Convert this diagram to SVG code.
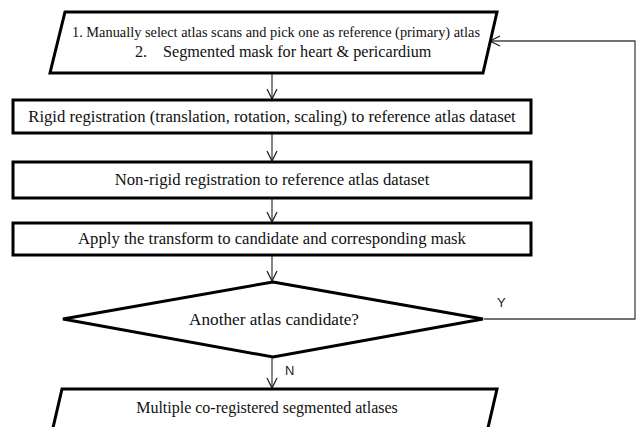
<svg xmlns="http://www.w3.org/2000/svg" width="638" height="427" viewBox="0 0 638 427">
<style>
.shape{fill:#fff;stroke:#000;stroke-width:3;stroke-linejoin:miter}
.t{font-family:"Liberation Serif","Times New Roman",serif;fill:#111;text-anchor:middle;font-size:16.7px}
.lbl{font-family:"Liberation Sans",Arial,sans-serif;font-size:13px;fill:#222}
.conn{fill:none;stroke:#444;stroke-width:1.3}
</style>
<defs>
<marker id="arr" viewBox="0 0 12 12" refX="11" refY="6" markerWidth="12" markerHeight="12" markerUnits="userSpaceOnUse" orient="auto">
<path d="M1,1 L11,6 L1,11" fill="none" stroke="#222" stroke-width="1.3"/>
</marker>
</defs>
<rect width="638" height="427" fill="#fff"/>
<g id="connectors">
<line class="conn" x1="272" y1="74" x2="272" y2="99" marker-end="url(#arr)"/>
<line class="conn" x1="272" y1="134" x2="272" y2="161" marker-end="url(#arr)"/>
<line class="conn" x1="272" y1="199" x2="272" y2="222" marker-end="url(#arr)"/>
<line class="conn" x1="272" y1="256" x2="272" y2="281" marker-end="url(#arr)"/>
<line class="conn" x1="272" y1="358" x2="272" y2="388" marker-end="url(#arr)"/>
<polyline class="conn" points="484,319 635,319 635,41 490,41" marker-end="url(#arr)"/>
<text class="lbl" x="497" y="307">Y</text>
<text class="lbl" x="285" y="375">N</text>
</g>
<g id="select-atlas">
<polygon class="shape" points="65,12 497,12 483,73 50,73"/>
<text class="t" x="72" y="37" style="font-size:14px;text-anchor:start" textLength="408" lengthAdjust="spacingAndGlyphs">1. Manually select atlas scans and pick one as reference (primary) atlas</text>
<text class="t" y="57" style="font-size:16.2px;text-anchor:start"><tspan x="135">2.</tspan><tspan x="163">Segmented mask for heart &amp; pericardium</tspan></text>
</g>
<g id="rigid">
<rect class="shape" x="13" y="100" width="518" height="33"/>
<text class="t" x="272" y="122">Rigid registration (translation, rotation, scaling) to reference atlas dataset</text>
</g>
<g id="nonrigid">
<rect class="shape" x="13" y="162" width="518" height="36"/>
<text class="t" x="272" y="185">Non-rigid registration to reference atlas dataset</text>
</g>
<g id="apply">
<rect class="shape" x="13" y="223" width="518" height="32"/>
<text class="t" x="272" y="244">Apply the transform to candidate and corresponding mask</text>
</g>
<g id="decision">
<polygon class="shape" points="273,282 483,319 273,357 63,319"/>
<text class="t" x="274" y="325" style="font-size:17.2px">Another atlas candidate?</text>
</g>
<g id="output">
<polygon class="shape" points="62,389 497,389 484,445 49,445"/>
<text class="t" x="267" y="413" style="font-size:16px">Multiple co-registered segmented atlases</text>
</g>
</svg>
